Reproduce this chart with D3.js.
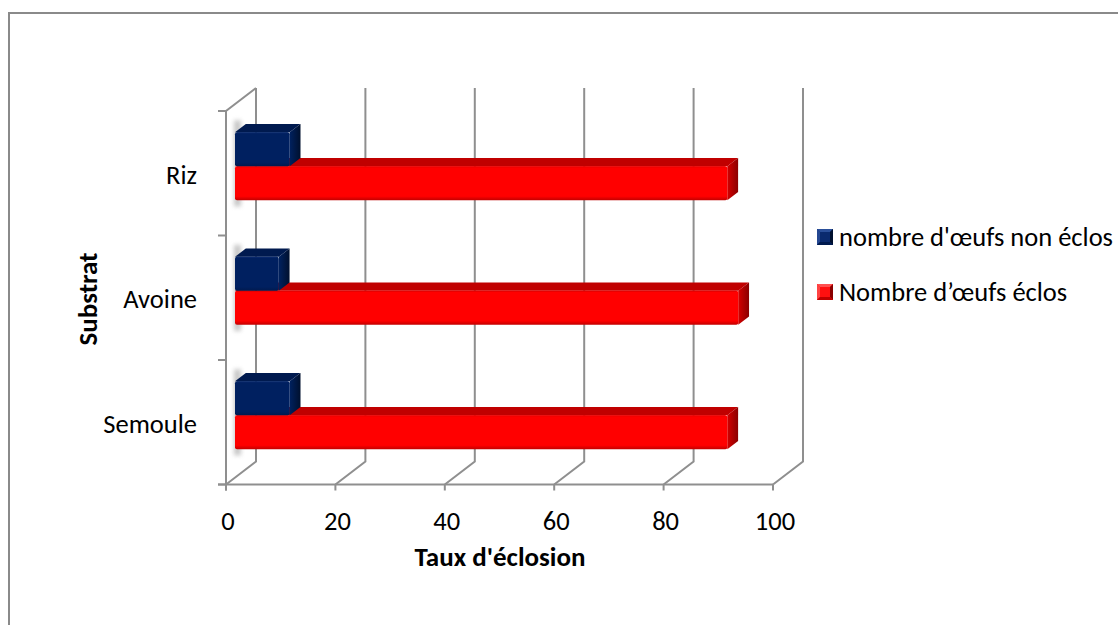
<!DOCTYPE html>
<html>
<head>
<meta charset="utf-8">
<script src="https://cdn.jsdelivr.net/npm/d3@7"></script>
<style>
  html, body { margin: 0; padding: 0; background: #fff; }
  svg { display: block; }
  text { font-family: Carlito, Calibri, Lato, "Noto Sans", sans-serif; fill: #000; }
</style>
</head>
<body>
<div id="chart"></div>
<script>
// Egg hatching per substrate
const categories = ["Riz", "Avoine", "Semoule"];
const hatched = [90, 92, 90];       // Nombre d'œufs éclos
const notHatched = [10, 8, 10];     // nombre d'œufs non éclos
const seriesKeys = ["nonEclos", "eclos"];
const seriesLabels = ["nombre d'œufs non éclos", "Nombre d’œufs éclos"];
const xTicks = [0, 20, 40, 60, 80, 100];
const xTitle = "Taux d'éclosion";
const yTitle = "Substrat";

const W = 1118, H = 625;
const FS = 26.5, FS_BOLD = 27;
const svg = d3.select("#chart").append("svg").attr("width", W).attr("height", H);
const defs = svg.append("defs");

// Outer chart border (runs off the right and bottom edges)
svg.append("rect").attr("x", 9).attr("y", 13).attr("width", 1200).attr("height", 700)
  .attr("fill", "none").attr("stroke", "#8a8a8a").attr("stroke-width", 2);

// Front-plane scales and oblique depth vector
const x = d3.scaleLinear().domain([0, 100]).range([226, 773]);
const y = d3.scaleBand().domain(categories).range([111, 484.5]);
const sub = d3.scaleBand().domain(seriesKeys).range([0, y.bandwidth()])
  .paddingInner(0).paddingOuter(0.83).align(0.5);
const DX = 30, DY = -23;
const proj = (px, py, d) => [px + DX * d, py + DY * d];
const yTop = y.range()[0], yBot = y.range()[1];

const grid = svg.append("g").attr("fill", "none").attr("stroke", "#8f8f8f").attr("stroke-width", 2);
const line = d3.line();

// Back wall gridlines and floor diagonals
xTicks.forEach(t => {
  const bt = proj(x(t), yTop, 1), bb = proj(x(t), yBot, 1);
  grid.append("path").attr("d", line([bt, bb, [x(t), yBot]]));
  grid.append("path").attr("d", line([[x(t), yBot], [x(t), yBot + 6]]));
});
// Left wall: front edge, top diagonal, category ticks
grid.append("path").attr("d", line([proj(x(0), yTop, 1), [x(0), yTop], [x(0), yBot + 6]]));
const catEdges = categories.map(c => y(c)).concat([yBot]);
catEdges.forEach(v => grid.append("path").attr("d", line([[x(0) - 8, v], [x(0), v]])));
// Floor front edge
grid.append("path").attr("d", line([[x(0) - 8, yBot], [x(100), yBot]]));

// Bar colours
const palette = {
  eclos:    { front: "#ff0000", top: "#c00000", side0: "#d40000", side1: "#8a0000", edge: "#e60000" },
  nonEclos: { front: "#002060", top: "#001a4f", side0: "#00215f", side1: "#00102e", edge: "#0a2a6e" }
};
seriesKeys.forEach(k => {
  const g = defs.append("linearGradient").attr("id", "side-" + k)
    .attr("x1", 0).attr("x2", 1).attr("y1", 0).attr("y2", 0);
  g.append("stop").attr("offset", "0%").attr("stop-color", palette[k].side0);
  g.append("stop").attr("offset", "100%").attr("stop-color", palette[k].side1);
  const f = defs.append("linearGradient").attr("id", "front-" + k)
    .attr("x1", 0).attr("x2", 0).attr("y1", 0).attr("y2", 1);
  f.append("stop").attr("offset", "0%").attr("stop-color", palette[k].front);
  f.append("stop").attr("offset", "88%").attr("stop-color", palette[k].front);
  f.append("stop").attr("offset", "100%").attr("stop-color", palette[k].top);
});
defs.append("filter").attr("id", "soft").attr("x", "-50%").attr("y", "-20%")
  .attr("width", "200%").attr("height", "140%")
  .append("feGaussianBlur").attr("stdDeviation", 2.2);

const D1 = 0.3, D2 = 0.66;
const rows = categories.map((c, i) => ({ cat: c, eclos: hatched[i], nonEclos: notHatched[i] }));

const bars = svg.append("g");
rows.forEach(r => {
  // soft shadow cast on the left wall
  const s0 = proj(x(0), y(r.cat) + sub("nonEclos"), D1);
  const s1 = proj(x(0), y(r.cat) + sub("eclos") + sub.bandwidth(), D1);
  bars.append("rect").attr("x", s0[0] - 1).attr("y", s0[1] - 12)
    .attr("width", 7).attr("height", s1[1] - s0[1] + 18)
    .attr("fill", "#9a9a9a").attr("opacity", 0.55).attr("filter", "url(#soft)");

  // draw lower series first so the upper bar sits over its top face
  ["eclos", "nonEclos"].forEach(k => {
    const v = r[k], c = palette[k];
    const yf = y(r.cat) + sub(k), h = sub.bandwidth();
    const x0 = x(0), x1 = x(v);
    const fTL = proj(x0, yf, D1), fTR = proj(x1, yf, D1), fBR = proj(x1, yf + h, D1);
    const bTL = proj(x0, yf, D2), bTR = proj(x1, yf, D2), bBR = proj(x1, yf + h, D2);
    const g = bars.append("g");
    g.append("path").attr("d", line([fTL, fTR, bTR, bTL]) + "Z").attr("fill", c.top);
    g.append("path").attr("d", line([fTR, bTR, bBR, fBR]) + "Z").attr("fill", `url(#side-${k})`);
    g.append("rect").attr("x", fTL[0]).attr("y", fTL[1]).attr("width", fTR[0] - fTL[0]).attr("height", h)
      .attr("rx", 2).attr("fill", `url(#front-${k})`);
    // bevel highlight along the front top edge
    g.append("path").attr("d", line([[fTL[0] + 2, fTL[1] + 0.5], [fTR[0] - 2, fTR[1] + 0.5]]))
      .attr("stroke", c.edge).attr("stroke-width", 1).attr("fill", "none");
  });
});

// Tick labels
svg.append("g").selectAll("text").data(xTicks).join("text")
  .attr("x", d => x(d) + 2).attr("y", 530).attr("text-anchor", "middle")
  .attr("font-size", FS).text(d => d);

// Category labels
svg.append("g").selectAll("text").data(categories).join("text")
  .attr("x", 197).attr("y", d => y(d) + y.bandwidth() / 2 + 10.5).attr("text-anchor", "end")
  .attr("font-size", FS).text(d => d);

// Axis titles
svg.append("text").attr("x", 500).attr("y", 566).attr("text-anchor", "middle")
  .attr("font-size", FS_BOLD).attr("font-weight", "bold").text(xTitle);
svg.append("text").attr("transform", "translate(97,299) rotate(-90)").attr("text-anchor", "middle")
  .attr("font-size", FS_BOLD).attr("font-weight", "bold").text(yTitle);

// Legend with bevelled swatches
const legend = svg.append("g");
const legendY = d3.scalePoint().domain(seriesKeys).range([237, 292]);
const sw = 16, bev = 3;
seriesKeys.forEach((k, i) => {
  const c = palette[k];
  const cx = 817, cy = legendY(k) - sw / 2;
  const gg = legend.append("g").attr("transform", `translate(${cx},${cy})`);
  const light = k === "eclos" ? "#ff5050" : "#2a4f9a";
  const mid = k === "eclos" ? "#ff1010" : "#0a2a6e";
  gg.append("rect").attr("width", sw).attr("height", sw).attr("fill", mid);
  gg.append("path").attr("d", line([[0, 0], [sw, 0], [sw - bev, bev], [bev, bev]]) + "Z").attr("fill", light);
  gg.append("path").attr("d", line([[0, 0], [bev, bev], [bev, sw - bev], [0, sw]]) + "Z").attr("fill", light).attr("opacity", 0.8);
  gg.append("path").attr("d", line([[sw, 0], [sw, sw], [sw - bev, sw - bev], [sw - bev, bev]]) + "Z").attr("fill", c.side1);
  gg.append("path").attr("d", line([[0, sw], [sw, sw], [sw - bev, sw - bev], [bev, sw - bev]]) + "Z").attr("fill", c.top);
  legend.append("text").attr("x", 839).attr("y", legendY(k) + 9)
    .attr("font-size", FS).text(seriesLabels[i]);
});
</script>
</body>
</html>
